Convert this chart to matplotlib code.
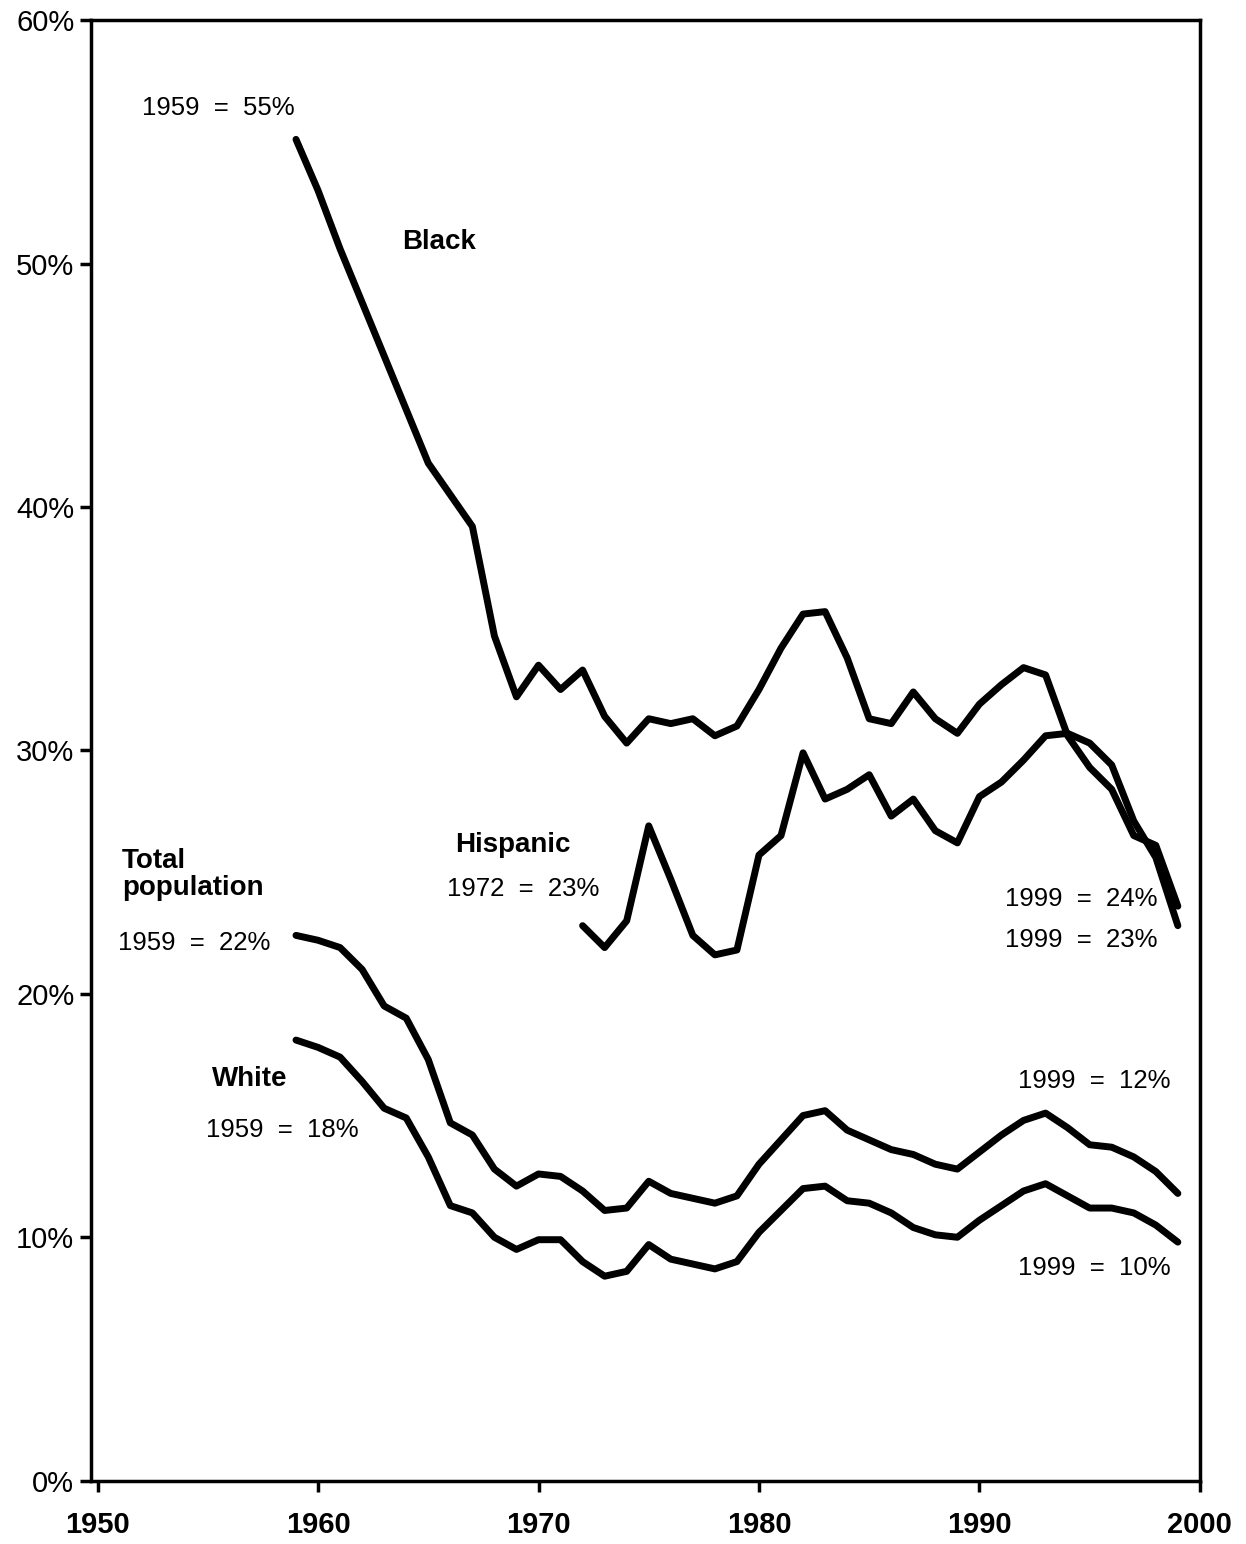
import matplotlib.pyplot as plt

# Poverty rates by group (percent)
yearsLong = list(range(1959, 2000))
black = [55.1, 53.0, 50.6, 48.4, 46.2, 44.0, 41.8, 40.5, 39.2, 34.7,
         32.2, 33.5, 32.5, 33.3, 31.4, 30.3, 31.3, 31.1, 31.3, 30.6,
         31.0, 32.5, 34.2, 35.6, 35.7, 33.8, 31.3, 31.1, 32.4, 31.3,
         30.7, 31.9, 32.7, 33.4, 33.1, 30.6, 29.3, 28.4, 26.5, 26.1, 23.6]
total = [22.4, 22.2, 21.9, 21.0, 19.5, 19.0, 17.3, 14.7, 14.2, 12.8,
         12.1, 12.6, 12.5, 11.9, 11.1, 11.2, 12.3, 11.8, 11.6, 11.4,
         11.7, 13.0, 14.0, 15.0, 15.2, 14.4, 14.0, 13.6, 13.4, 13.0,
         12.8, 13.5, 14.2, 14.8, 15.1, 14.5, 13.8, 13.7, 13.3, 12.7, 11.8]
white = [18.1, 17.8, 17.4, 16.4, 15.3, 14.9, 13.3, 11.3, 11.0, 10.0,
         9.5, 9.9, 9.9, 9.0, 8.4, 8.6, 9.7, 9.1, 8.9, 8.7,
         9.0, 10.2, 11.1, 12.0, 12.1, 11.5, 11.4, 11.0, 10.4, 10.1,
         10.0, 10.7, 11.3, 11.9, 12.2, 11.7, 11.2, 11.2, 11.0, 10.5, 9.8]
yearsHispanic = list(range(1972, 2000))
hispanic = [22.8, 21.9, 23.0, 26.9, 24.7, 22.4, 21.6, 21.8, 25.7, 26.5,
            29.9, 28.0, 28.4, 29.0, 27.3, 28.0, 26.7, 26.2, 28.1, 28.7,
            29.6, 30.6, 30.7, 30.3, 29.4, 27.1, 25.6, 22.8]

xTicks = [1950, 1960, 1970, 1980, 1990, 2000]
yTicks = [0, 10, 20, 30, 40, 50, 60]
yTickLabels = ['0%', '10%', '20%', '30%', '40%', '50%', '60%']

plt.rcParams['font.family'] = ['Liberation Sans', 'DejaVu Sans']

fig = plt.figure(figsize=(12.46, 15.44), dpi=100)
ax = fig.add_axes([0.073, 0.041, 0.890, 0.946])

lineStyle = dict(color='black', linewidth=5, solid_joinstyle='round', solid_capstyle='round')
ax.plot(yearsLong, black, **lineStyle)
ax.plot(yearsHispanic, hispanic, **lineStyle)
ax.plot(yearsLong, total, **lineStyle)
ax.plot(yearsLong, white, **lineStyle)

ax.set_xlim(1949.7, 2000)
ax.set_ylim(0, 60)
ax.set_xticks(xTicks)
ax.set_xticklabels([str(x) for x in xTicks], fontsize=21, fontweight='bold')
ax.set_yticks(yTicks)
ax.set_yticklabels(yTickLabels, fontsize=21)
ax.tick_params(axis='both', direction='out', length=8, width=2.5, color='black')
ax.tick_params(axis='x', pad=14)
ax.tick_params(axis='y', pad=4)
for spine in ax.spines.values():
    spine.set_linewidth(2.5)

# Annotations
bold = dict(fontsize=20, fontweight='bold', color='black')
normal = dict(fontsize=18.5, color='black')
ax.text(1955.46, 56.4, '1959  =  55%', ha='center', va='center', **normal)
ax.text(1965.5, 50.9, 'Black', ha='center', va='center', **bold)
ax.text(1968.84, 26.1, 'Hispanic', ha='center', va='center', **bold)
ax.text(1969.3, 24.3, '1972  =  23%', ha='center', va='center', **normal)
ax.text(1951.1, 24.9, 'Total\npopulation', ha='left', va='center', linespacing=1.05, **bold)
ax.text(1954.4, 22.1, '1959  =  22%', ha='center', va='center', **normal)
ax.text(1956.9, 16.5, 'White', ha='center', va='center', **bold)
ax.text(1958.4, 14.4, '1959  =  18%', ha='center', va='center', **normal)
ax.text(1994.64, 23.9, '1999  =  24%', ha='center', va='center', **normal)
ax.text(1994.64, 22.2, '1999  =  23%', ha='center', va='center', **normal)
ax.text(1995.2, 16.4, '1999  =  12%', ha='center', va='center', **normal)
ax.text(1995.2, 8.75, '1999  =  10%', ha='center', va='center', **normal)

plt.savefig('out.png', dpi=100)
